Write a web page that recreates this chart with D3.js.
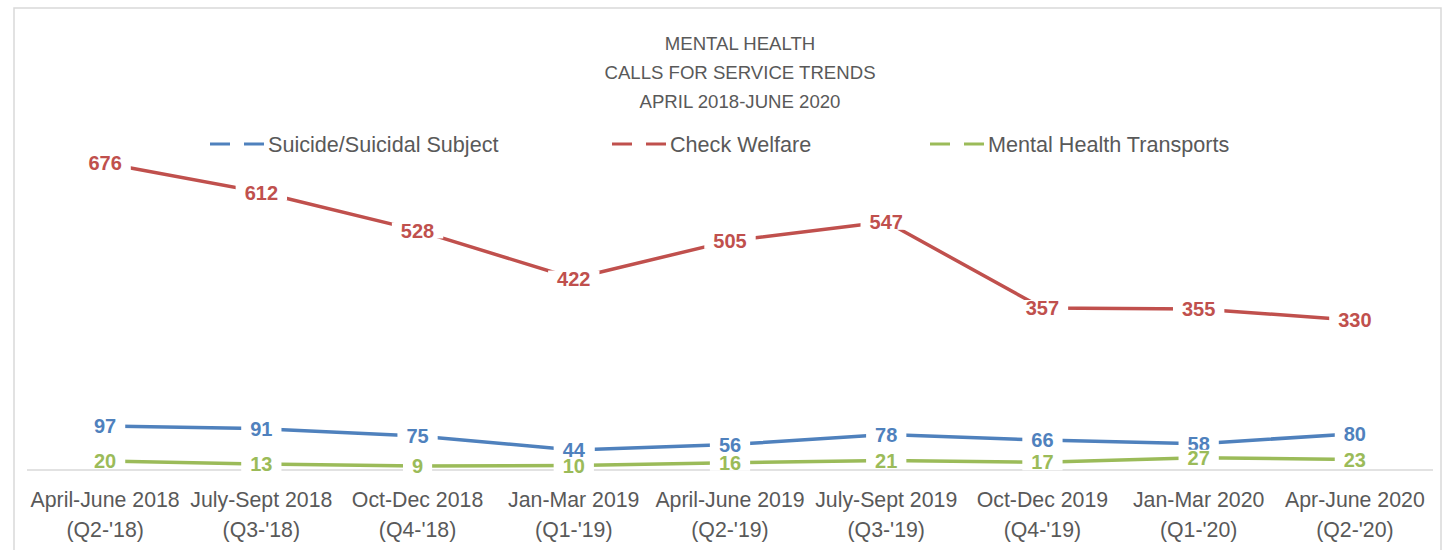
<!DOCTYPE html>
<html>
<head>
<meta charset="utf-8">
<script src="https://cdn.jsdelivr.net/npm/d3@7"></script>
<style>
  body { margin: 0; background: #fff; }
  svg { display: block; font-family: "Liberation Sans", Arial, sans-serif; }
</style>
</head>
<body>
<div id="chart"></div>
<script>
const categories = [
  ["April-June 2018", "(Q2-'18)"],
  ["July-Sept 2018", "(Q3-'18)"],
  ["Oct-Dec 2018", "(Q4-'18)"],
  ["Jan-Mar 2019", "(Q1-'19)"],
  ["April-June 2019", "(Q2-'19)"],
  ["July-Sept 2019", "(Q3-'19)"],
  ["Oct-Dec 2019", "(Q4-'19)"],
  ["Jan-Mar 2020", "(Q1-'20)"],
  ["Apr-June 2020", "(Q2-'20)"]
];
const seriesNames = ["Suicide/Suicidal Subject", "Check Welfare", "Mental Health Transports"];
const suicideValues = [97, 91, 75, 44, 56, 78, 66, 58, 80];
const welfareValues = [676, 612, 528, 422, 505, 547, 357, 355, 330];
const transportValues = [20, 13, 9, 10, 16, 21, 17, 27, 23];
const titleLines = ["MENTAL HEALTH", "CALLS FOR SERVICE TRENDS", "APRIL 2018-JUNE 2020"];

const width = 1455, height = 550;
const colors = ["#4F81BD", "#C0504D", "#9BBB59"];
const series = [suicideValues, welfareValues, transportValues].map((v, i) => ({
  name: seriesNames[i], values: v, color: colors[i]
}));

const svg = d3.select("#chart").append("svg")
  .attr("width", width)
  .attr("height", height);

// chart area border
svg.append("rect")
  .attr("x", 14).attr("y", 8)
  .attr("width", 1427).attr("height", 600)
  .attr("fill", "none")
  .attr("stroke", "#d9d9d9")
  .attr("stroke-width", 1.5);

const x = d3.scaleBand()
  .domain(d3.range(categories.length))
  .range([27, 1433]);

const y = d3.scaleLinear()
  .domain([0, 800])
  .range([470, 107]);

// baseline
svg.append("line")
  .attr("x1", x.range()[0]).attr("x2", x.range()[1])
  .attr("y1", y(0)).attr("y2", y(0))
  .attr("stroke", "#d9d9d9")
  .attr("stroke-width", 1.5);

// title
svg.append("g").selectAll("text")
  .data(titleLines)
  .enter().append("text")
  .attr("x", 740)
  .attr("y", (_, i) => 50 + i * 29)
  .attr("text-anchor", "middle")
  .attr("fill", "#595959")
  .style("font-size", "18.6px")
  .text(d => d);

// legend
const legendX = [210, 612, 930];
const legend = svg.append("g")
  .selectAll("g")
  .data(series)
  .enter().append("g")
  .attr("transform", (_, i) => `translate(${legendX[i]}, 144)`);

legend.append("line")
  .attr("x1", 0).attr("x2", 54)
  .attr("stroke", d => d.color)
  .attr("stroke-width", 3)
  .attr("stroke-dasharray", "20 14 20");

legend.append("text")
  .attr("x", 58)
  .attr("y", 7.5)
  .attr("fill", "#595959")
  .style("font-size", "21.6px")
  .text(d => d.name);

// category labels
const cat = svg.append("g").selectAll("text")
  .data(categories)
  .enter().append("text")
  .attr("text-anchor", "middle")
  .attr("fill", "#595959")
  .style("font-size", "21.3px");

cat.append("tspan")
  .attr("x", (_, i) => x(i) + x.bandwidth() / 2)
  .attr("y", 507)
  .text(d => d[0]);
cat.append("tspan")
  .attr("x", (_, i) => x(i) + x.bandwidth() / 2)
  .attr("y", 537)
  .text(d => d[1]);

const line = d3.line()
  .x((_, i) => x(i) + x.bandwidth() / 2)
  .y(d => y(d));

svg.append("g").selectAll("path")
  .data(series)
  .enter().append("path")
  .attr("d", d => line(d.values))
  .attr("fill", "none")
  .attr("stroke", d => d.color)
  .attr("stroke-width", 3.5)
  .attr("stroke-linecap", "round")
  .attr("stroke-linejoin", "round");

// data labels with white boxes
series.forEach(s => {
  const g = svg.append("g");
  s.values.forEach((v, i) => {
    const cx = x(i) + x.bandwidth() / 2;
    const cy = y(v);
    const t = g.append("text")
      .attr("x", cx)
      .attr("y", cy + 7.2)
      .attr("text-anchor", "middle")
      .attr("fill", s.color)
      .style("font-size", "20px")
      .style("font-weight", "bold")
      .text(v);
    const bb = t.node().getBBox();
    g.insert("rect", () => t.node())
      .attr("x", bb.x - 9)
      .attr("y", cy - 8)
      .attr("width", bb.width + 18)
      .attr("height", 16)
      .attr("fill", "#fff");
  });
});
</script>
</body>
</html>
